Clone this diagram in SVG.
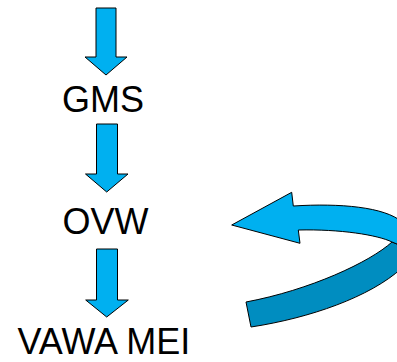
<svg xmlns="http://www.w3.org/2000/svg" width="397" height="362" viewBox="0 0 397 362">
<style>
.arr{fill:#00B0F0;stroke:#000;stroke-width:1;stroke-linejoin:miter}
.dark{fill:#008DC0;stroke:#000;stroke-width:1}
.lbl{font-family:"Liberation Sans",Arial,sans-serif;font-size:36px;fill:#000;text-anchor:middle}
</style>
<rect width="397" height="362" fill="#fff"/>
<g id="connectors">
<path id="arrow1" class="arr" d="M96,8 H116 V57 H127 L106,75 L85,57 H96 Z"/>
<path id="arrow2" class="arr" d="M96.5,124 H117.5 V174 H128 L106.7,192 L85.5,174 H96.5 Z"/>
<path id="arrow3" class="arr" d="M96.5,249 H117.5 V300 H128.3 L106.7,317 L85.7,300 H96.5 Z"/>
<g id="curved-arrow">
<path class="dark" d="M392,242 C370,262 310,290 246,302 L251,327 C310,318 370,297 402,268 L402,246 Z"/>
<path class="arr" d="M231.7,225 L291.7,192.3 L293.3,206 C340,203 385,207 402,222 L402,246 L392,242 C378,235 340,229 298.3,230 L300,243.3 Z"/>
</g>
</g>
<g id="node-gms"><text class="lbl" x="103" y="112">GMS</text></g>
<g id="node-ovw"><text class="lbl" x="105.4" y="233.5">OVW</text></g>
<g id="node-vawa"><text class="lbl" x="103.8" y="354">VAWA MEI</text></g>
</svg>
